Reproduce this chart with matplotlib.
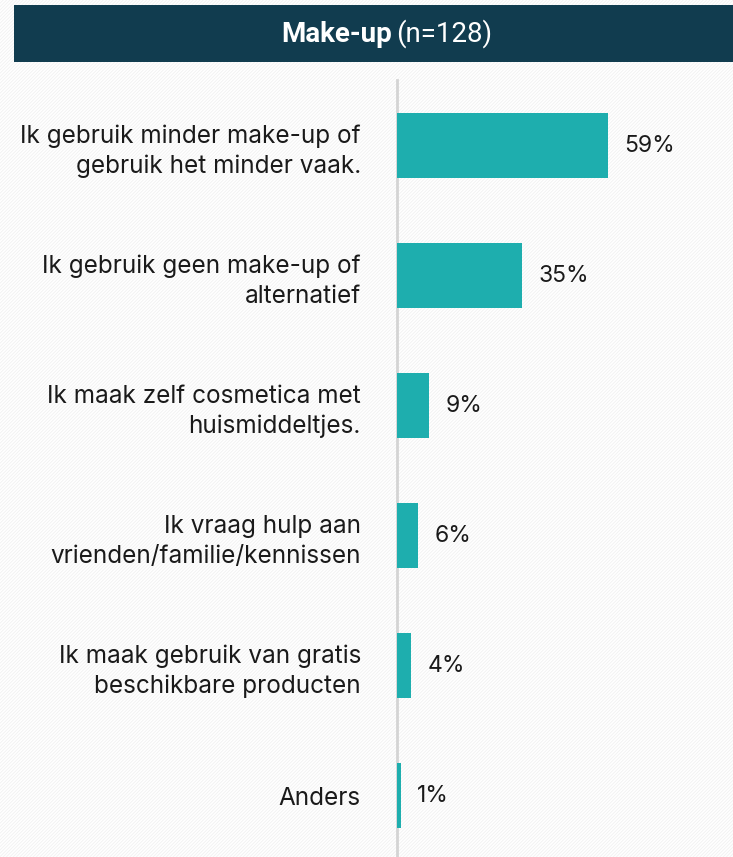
import matplotlib
matplotlib.use("Agg")
import matplotlib.pyplot as plt
from matplotlib.patches import Rectangle

categories = [
    "Ik gebruik minder make-up of\ngebruik het minder vaak.",
    "Ik gebruik geen make-up of\nalternatief",
    "Ik maak zelf cosmetica met\nhuismiddeltjes.",
    "Ik vraag hulp aan\nvrienden/familie/kennissen",
    "Ik maak gebruik van gratis\nbeschikbare producten",
    "Anders",
]
values = [59, 35, 9, 6, 4, 1]
value_labels = ["59%", "35%", "9%", "6%", "4%", "1%"]
title_bold = "Make-up"
title_regular = "(n=128)"

W, H = 733, 857
plt.rcParams["font.family"] = ["Inter", "DejaVu Sans"]
plt.rcParams["hatch.linewidth"] = 0.5
plt.rcParams["hatch.color"] = "#efefef"

fig = plt.figure(figsize=(W / 100, H / 100), dpi=100)
fig.patch.set_facecolor("white")

# hatched background
bg = Rectangle((0, 0), 1, 1, transform=fig.transFigure, facecolor="white",
               edgecolor="#efefef", hatch="/" * 10, linewidth=0, zorder=-10)
fig.patches.append(bg)

# title bar
bar = Rectangle((14 / W, 1 - 62 / H), 1 - 14 / W, 57 / H, transform=fig.transFigure,
                facecolor="#113c4f", edgecolor="none", zorder=1)
fig.patches.append(bar)
ty = 1 - 34 / H
fig.text(392 / W, ty, title_bold, ha="right", va="center", color="white",
         fontsize=20, fontweight="bold", family=["Roboto", "DejaVu Sans"], zorder=2)
fig.text(396 / W, ty, title_regular, ha="left", va="center", color="white",
         fontsize=20, family=["Roboto", "DejaVu Sans"], zorder=2)

ax = fig.add_axes([397 / W, 0, 1 - 397 / W, 1 - 80 / H])
ax.set_facecolor("none")
y = list(range(len(categories)))
ax.barh(y, values, height=0.5, color="#1eaeae", zorder=3)
ax.set_ylim(len(categories) - 1 + 0.473, -0.504)
ax.set_xlim(0, 94)

for yi, v, lab in zip(y, values, value_labels):
    ax.annotate(lab, (v, yi), xytext=(16, 0), textcoords="offset pixels",
                ha="left", va="center", fontsize=16.5, color="#1a1a1a")

ax.set_yticks(y)
ax.set_yticklabels(categories, fontsize=17.5, color="#1a1a1a", linespacing=1.37,
                   ha="right")
ax.tick_params(axis="y", length=0, pad=26)
ax.set_xticks([])
for s in ["top", "right", "bottom"]:
    ax.spines[s].set_visible(False)
ax.spines["left"].set_color("#d4d4d4")
ax.spines["left"].set_linewidth(2)

fig.savefig("out.png", dpi=100)
